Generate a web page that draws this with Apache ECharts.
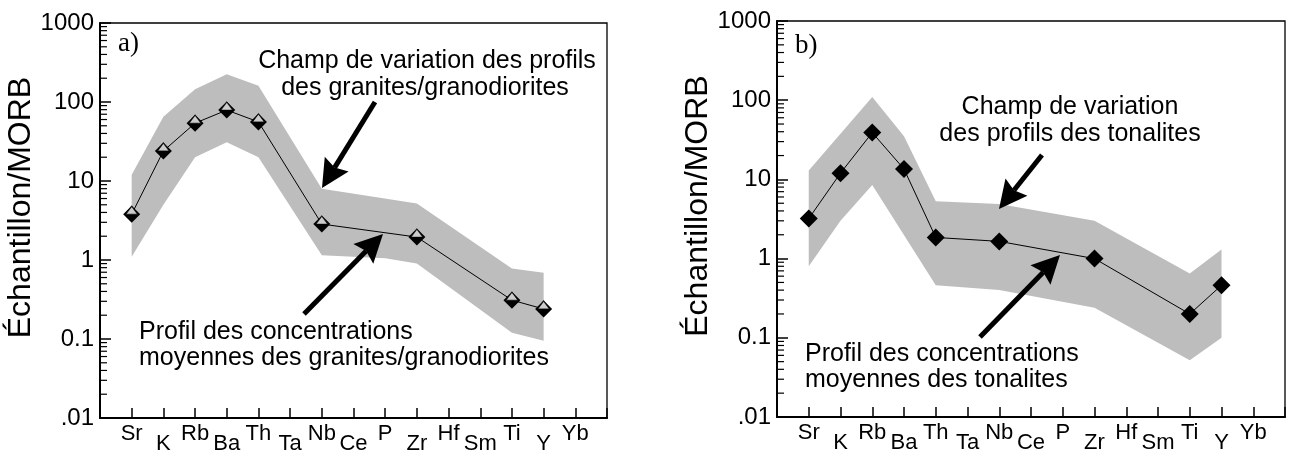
<!DOCTYPE html>
<html>
<head>
<meta charset="utf-8">
<script src="https://cdn.jsdelivr.net/npm/echarts@6/dist/echarts.min.js"></script>
<style>
  html, body { margin: 0; padding: 0; background: #fff; }
  #chart { width: 1291px; height: 457px; }
</style>
</head>
<body>
<div id="chart"></div>
<script>
// element order on the x axis (position 1..15)
const elements = ['Sr', 'K', 'Rb', 'Ba', 'Th', 'Ta', 'Nb', 'Ce', 'P', 'Zr', 'Hf', 'Sm', 'Ti', 'Y', 'Yb'];
const yTicks = [0.01, 0.1, 1, 10, 100, 1000];
const yTickLabels = ['.01', '0.1', '1', '10', '100', '1000'];
const minorSteps = [2, 3, 4, 5, 6, 7, 8, 9];
const decades = [0.01, 0.1, 1, 10, 100];

// a) granites / granodiorites : mean profile + envelope corners (null = no corner there)
const meanA  = [3.8, 24, 54, 79, 56, null, 2.85, null, null, 1.95, null, null, 0.31, 0.24, null];
const upperA = [12, 65, 145, 225, 160, null, 8, null, null, 5.2, null, null, 0.78, 0.69, null];
const lowerA = [1.1, 5, 20, 31, 20, null, 1.15, null, 1.05, 0.9, null, null, 0.12, 0.095, null];

// b) tonalites
const meanB  = [3.2, 12, 39, 13.5, 1.85, null, 1.65, null, null, 1.0, null, null, 0.2, 0.46, null];
const upperB = [13, null, 110, 35, 5.3, null, 4.9, null, null, 3.0, null, null, 0.65, 1.3, null];
const lowerB = [0.8, 3.0, 8.5, null, 0.46, null, 0.40, null, null, 0.24, null, null, 0.052, 0.10, null];

const FONT = '"Liberation Sans", Arial, Helvetica, sans-serif';
const SERIF = '"Liberation Serif", "Times New Roman", serif';
const BAND = '#bdbdbd';

const pairs = (arr) => arr.map((v, i) => (v == null ? null : [i + 1, v])).filter(Boolean);
const minorValues = decades.flatMap((d) => minorSteps.map((m) => +(d * m).toPrecision(3)));

function bandRender(upper, lower) {
  return function (params, api) {
    const pts = [];
    upper.forEach((v, i) => { if (v != null) pts.push(api.coord([i + 1, v])); });
    for (let i = lower.length - 1; i >= 0; i--) {
      if (lower[i] != null) pts.push(api.coord([i + 1, lower[i]]));
    }
    return { type: 'polygon', shape: { points: pts }, style: { fill: BAND } };
  };
}

// log minor ticks on the left axis, placed through the y scale
function minorRender(params, api) {
  return {
    type: 'group',
    children: minorValues.map((v) => {
      const p = api.coord([0, v]);
      return { type: 'line', shape: { x1: p[0], y1: p[1], x2: p[0] + 7, y2: p[1] },
               style: { stroke: '#000', lineWidth: 1.2 } };
    })
  };
}

function xAxes(gridIndex, high) {
  return {
    type: 'value', gridIndex, min: 0, max: 16, interval: 1, position: 'bottom',
    axisLine: { show: high, onZero: false, lineStyle: { color: '#000', width: 2 } },
    axisTick: { show: high, inside: true, length: 10, lineStyle: { color: '#000', width: 1.5 } },
    splitLine: { show: false },
    axisLabel: {
      color: '#000', fontFamily: FONT, fontSize: 22, margin: high ? 5 : 15,
      formatter: (v) => {
        if (v < 1 || v > 15) return '';
        const isHigh = v % 2 === 1;
        return isHigh === high ? elements[v - 1] : '';
      }
    }
  };
}

function yAxis(gridIndex) {
  return {
    type: 'log', logBase: 10, gridIndex, min: 0.01, max: 1000,
    name: 'Échantillon/MORB', nameLocation: 'middle', nameGap: 41,
    nameTextStyle: { color: '#000', fontFamily: FONT, fontSize: 32, padding: [0, 0, 0, 26] },
    axisLine: { show: true, lineStyle: { color: '#000', width: 2 } },
    axisTick: { inside: true, length: 11, lineStyle: { color: '#000', width: 1.5 } },
    splitLine: { show: false },
    axisLabel: {
      color: '#000', fontFamily: FONT, fontSize: 24, margin: 6,
      formatter: (v) => {
        const k = yTicks.findIndex((t) => Math.abs(Math.log10(t) - Math.log10(v)) < 1e-6);
        return k < 0 ? '' : yTickLabels[k];
      }
    }
  };
}

function panelSeries(n, mean, upper, lower, openTop) {
  const xi = n * 2, yi = n;
  const s = [
    { type: 'custom', xAxisIndex: xi, yAxisIndex: yi, data: [[1, 1]], renderItem: bandRender(upper, lower), z: 1, silent: true },
    { type: 'custom', xAxisIndex: xi, yAxisIndex: yi, data: [[1, 1]], renderItem: minorRender, z: 3, silent: true, clip: false },
    { type: 'line', xAxisIndex: xi, yAxisIndex: yi, data: pairs(mean), z: 4,
      lineStyle: { color: '#000', width: 1 },
      symbol: 'diamond', symbolSize: openTop ? 17 : 18, showSymbol: true,
      itemStyle: { color: '#000' } }
  ];
  if (openTop) {
    s.push({ type: 'scatter', xAxisIndex: xi, yAxisIndex: yi, data: pairs(mean), z: 5,
      symbol: 'triangle', symbolSize: [12, 8], symbolOffset: [0, -4],
      itemStyle: { color: '#fff', borderColor: '#000', borderWidth: 1 } });
  }
  return s;
}

function arrow(x1, y1, x2, y2) {
  const dx = x2 - x1, dy = y2 - y1, len = Math.hypot(dx, dy);
  const ux = dx / len, uy = dy / len, nx = -uy, ny = ux;
  const hl = 28, hw = 14, notch = 4;
  const bx = x2 - ux * hl, by = y2 - uy * hl;
  return [
    { type: 'line', z: 10, shape: { x1, y1, x2: bx + ux * notch, y2: by + uy * notch },
      style: { stroke: '#000', lineWidth: 5 } },
    { type: 'polygon', z: 10, shape: { points: [[x2, y2], [bx + nx * hw, by + ny * hw],
      [bx + ux * notch, by + uy * notch], [bx - nx * hw, by - ny * hw]] },
      style: { fill: '#000' } }
  ];
}

function label(text, x, baseline, align, size, family) {
  return { type: 'text', z: 10, style: { text, x, y: baseline - size * 0.33, align, verticalAlign: 'middle',
    font: `${size}px ${family || FONT}`, fill: '#000' } };
}

const chart = echarts.init(document.getElementById('chart'), null, { renderer: 'canvas' });

chart.setOption({
  backgroundColor: '#fff',
  animation: false,
  grid: [
    { left: 100, top: 23, width: 507, height: 395, show: true, borderColor: '#000', borderWidth: 1.3, backgroundColor: 'transparent' },
    { left: 777, top: 21, width: 508, height: 396, show: true, borderColor: '#000', borderWidth: 1.3, backgroundColor: 'transparent' }
  ],
  xAxis: [xAxes(0, true), xAxes(0, false), xAxes(1, true), xAxes(1, false)],
  yAxis: [yAxis(0), yAxis(1)],
  series: [
    ...panelSeries(0, meanA, upperA, lowerA, true),
    ...panelSeries(1, meanB, upperB, lowerB, false)
  ],
  graphic: [
    label('a)', 118, 53, 'left', 27, SERIF),
    label('Champ de variation des profils', 427, 69, 'center', 25),
    label('des granites/granodiorites', 425, 96, 'center', 25),
    label('Profil des concentrations', 139, 340, 'left', 25),
    label('moyennes des granites/granodiorites', 139, 366, 'left', 25),
    ...arrow(375, 102, 322, 188),
    ...arrow(304, 314, 383, 234),

    label('b)', 795, 55, 'left', 27, SERIF),
    label('Champ de variation', 1070, 115, 'center', 25),
    label('des profils des tonalites', 1070, 142, 'center', 25),
    label('Profil des concentrations', 805, 362, 'left', 25),
    label('moyennes des tonalites', 805, 388, 'left', 25),
    ...arrow(1042, 155, 999, 209),
    ...arrow(980, 337, 1060, 255)
  ]
});
</script>
</body>
</html>
